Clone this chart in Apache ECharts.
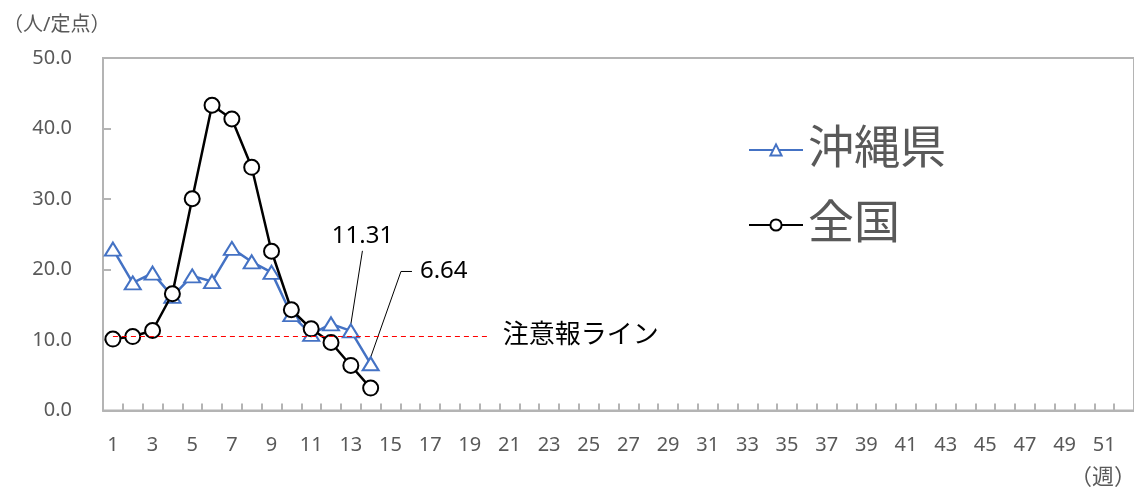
<!DOCTYPE html>
<html>
<head>
<meta charset="utf-8">
<script src="https://cdn.jsdelivr.net/npm/echarts@6/dist/echarts.min.js"></script>
<style>
html, body { margin: 0; padding: 0; background: #ffffff; }
#chart { width: 1134px; height: 489px; }
</style>
</head>
<body>
<div id="chart"></div>
<script>
// ---- data ----
var weeks = ['1','2','3','4','5','6','7','8','9','10','11','12','13','14','15','16','17','18','19','20',
  '21','22','23','24','25','26','27','28','29','30','31','32','33','34','35','36','37','38','39','40',
  '41','42','43','44','45','46','47','48','49','50','51','52'];
var seriesNames = ['沖縄県', '全国'];
var okinawa = [22.9, 18.1, 19.5, 16.2, 19.1, 18.3, 23.0, 21.1, 19.6, 13.6, 10.8, 12.3, 11.31, 6.64];
var national = [10.14, 10.5, 11.36, 16.57, 30.04, 43.3, 41.35, 34.5, 22.6, 14.3, 11.6, 9.66, 6.4, 3.19];
var yMin = 0, yMax = 50, yInterval = 10;
var alertLevel = 10.6;
var alertFrom = '1', alertTo = '20';
var alertText = '注意報ライン';
var yUnit = '（人/定点）';
var xUnit = '（週）';
var labelledPoints = [12, 13];

// ---- layout / style (not data) ----
var FONT = "'Noto Sans', 'Noto Sans CJK JP', sans-serif";
var GRAY = '#595959';
var AXIS = '#b4b4b4';
var BLUE = '#4472C4';
var labelPlacement = {
  12: { dx: 11.6, dy: -95, align: 'center', padding: [0, 0, 6, 0] },
  13: { dx: 41.3, dy: -92.3, align: 'left', padding: [0, 44, 0, 8], length2: 11 }
};

var okinawaData = okinawa.map(function (v, i) {
  if (labelledPoints.indexOf(i) < 0) return v;
  var p = labelPlacement[i];
  return {
    value: v,
    label: { show: true, color: '#000', fontSize: 24, fontFamily: FONT, padding: p.padding,
      backgroundColor: 'rgba(255,255,255,0)' },
    labelLine: { show: true, length2: p.length2 || 0, minTurnAngle: 0, lineStyle: { color: '#000', width: 1 } }
  };
});

var chart = echarts.init(document.getElementById('chart'), null, { renderer: 'canvas' });
chart.setOption({
  animation: false,
  backgroundColor: '#ffffff',
  textStyle: { fontFamily: FONT },
  title: [
    { text: yUnit, left: -2, top: 10, textStyle: { fontSize: 20, fontWeight: 'normal', color: GRAY, fontFamily: FONT } },
    { text: xUnit, right: -7, top: 462, textStyle: { fontSize: 22, fontWeight: 'normal', color: GRAY, fontFamily: FONT } }
  ],
  legend: {
    orient: 'vertical',
    left: 748,
    top: 125,
    padding: 0,
    itemGap: 25,
    itemWidth: 54,
    itemHeight: 14,
    data: seriesNames,
    textStyle: { fontSize: 46, color: GRAY, lineHeight: 50, fontFamily: FONT }
  },
  grid: {
    left: 103, top: 58, width: 1037, height: 352.6,
    show: true, borderColor: AXIS, borderWidth: 2, containLabel: false
  },
  xAxis: {
    type: 'category',
    data: weeks,
    boundaryGap: true,
    axisLine: { show: true, lineStyle: { color: AXIS, width: 2 } },
    axisTick: { show: true, inside: true, length: 7, interval: 0, lineStyle: { color: AXIS, width: 2 } },
    axisLabel: { interval: 1, color: GRAY, fontSize: 20, margin: 25, fontFamily: FONT },
    splitLine: { show: false }
  },
  yAxis: {
    type: 'value',
    min: yMin, max: yMax, interval: yInterval,
    axisLine: { show: true, lineStyle: { color: AXIS, width: 2 } },
    axisTick: { show: true, inside: true, length: 8, lineStyle: { color: AXIS, width: 2 } },
    axisLabel: { color: GRAY, fontSize: 20, margin: 31, fontFamily: FONT,
      formatter: function (v) { return v.toFixed(1); } },
    splitLine: { show: false }
  },
  series: [
    {
      name: seriesNames[0],
      type: 'line',
      data: okinawaData,
      color: BLUE,
      symbol: 'triangle',
      symbolSize: [16, 13],
      showAllSymbol: true,
      lineStyle: { color: BLUE, width: 2.5 },
      itemStyle: { color: '#ffffff', borderColor: BLUE, borderWidth: 2 },
      label: { show: false },
      labelLine: { show: false },
      labelLayout: function (p) {
        var pl = labelPlacement[p.dataIndex];
        if (!pl) return {};
        return {
          x: p.rect.x + p.rect.width / 2 + pl.dx,
          y: p.rect.y + p.rect.height / 2 + pl.dy,
          align: pl.align,
          verticalAlign: 'middle'
        };
      },
      z: 2
    },
    {
      name: seriesNames[1],
      type: 'line',
      data: national,
      color: '#000000',
      symbol: 'circle',
      symbolSize: 15,
      showAllSymbol: true,
      lineStyle: { color: '#000000', width: 2.5 },
      itemStyle: { color: '#ffffff', borderColor: '#000000', borderWidth: 2 },
      label: { show: false },
      z: 3,
      markLine: {
        silent: true,
        symbol: ['none', 'none'],
        lineStyle: { color: '#ff0000', type: [5, 4], width: 1.2 },
        label: { show: true, position: 'end', distance: 13, formatter: alertText,
          color: '#000', fontSize: 26, fontFamily: FONT },
        data: [[ { coord: [alertFrom, alertLevel] }, { coord: [alertTo, alertLevel] } ]]
      }
    }
  ]
});
</script>
</body>
</html>
